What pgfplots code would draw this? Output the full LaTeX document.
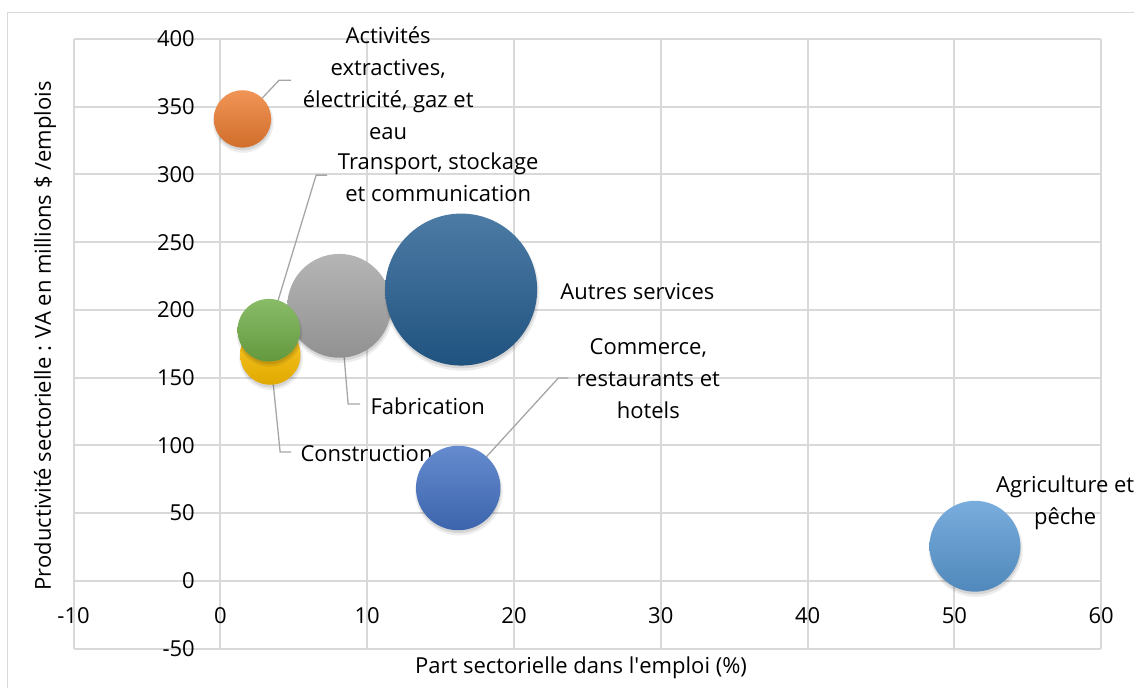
\documentclass[border=0pt]{standalone}
\usepackage{fontspec}
\setmainfont{Open Sans}
\usepackage{pgfplots}
\usepackage{pgfplotstable}
\pgfplotsset{compat=1.18}
\definecolor{gridc}{HTML}{D9D9D9}
\definecolor{leader}{HTML}{A6A6A6}
\definecolor{fabgray}{RGB}{165,165,165}
\definecolor{autblue}{RGB}{37,94,145}
\definecolor{conyel}{RGB}{255,192,0}
\definecolor{trgreen}{RGB}{112,173,71}
\definecolor{actorange}{RGB}{237,125,49}
\definecolor{comblue}{RGB}{68,114,196}
\definecolor{agrblue}{RGB}{91,155,213}
\colorlet{bubcol}{fabgray}
\tikzset{bubcol/.code={\colorlet{bubcol}{#1}}}

% Excel-like bubble: light top, darker bottom, soft drop shadow
\pgfdeclareverticalshading[bubcol]{bubshade}{100bp}{%
  color(0bp)=(bubcol!88!black); color(25bp)=(bubcol!88!black);
  color(75bp)=(bubcol!82!white); color(100bp)=(bubcol!82!white)}
\pgfdeclareplotmark{bubble}{%
  \pgfmathsetlengthmacro\bubr{\pgfplotmarksize+0.8pt}%
  \pgfscope
    \pgfsetfillcolor{black}\pgfsetfillopacity{0.07}%
    \pgfpathcircle{\pgfqpoint{0.4pt}{-1.8pt}}{\bubr}%
    \pgfusepathqfill
    \pgfsetfillopacity{0.10}%
    \pgfpathcircle{\pgfqpoint{0.3pt}{-1.4pt}}{\pgfplotmarksize}%
    \pgfusepathqfill
  \endpgfscope
  \pgfpathcircle{\pgfpointorigin}{\pgfplotmarksize}%
  \pgfshadepath{bubshade}{0}%
  \pgfusepath{discard}%
}

% x: part dans l'emploi (%), y: productivite, s: taille de bulle, c: secteur
\pgfplotstableread{
x     y      s     c
8.1   203    15.4  fab
16.4  215    33.0  aut
3.4   167    5.2   con
3.3   185    5.6   tra
1.5   341    4.7   act
16.2  68.5   10.2  com
51.4  25.5   11.8  agr
}\sectors

\begin{document}
\begin{tikzpicture}[font=\fontsize{11bp}{16bp}\selectfont]
\useasboundingbox (0,0) rectangle (567bp,344bp);
\draw[gridc, line width=0.6bp] (3.7bp,-20bp) rectangle (620bp,337.7bp);
\begin{axis}[
  at={(36.8bp,19.75bp)}, anchor=south west,
  scale only axis, width=513.8bp, height=304.75bp,
  xmin=-10, xmax=60, ymin=-50, ymax=400,
  xtick={-10,0,...,60}, ytick={-50,0,...,400},
  axis lines=middle,
  axis line style={draw=none},
  hide obscured x ticks=false, hide obscured y ticks=false,
  major tick length=0pt,
  grid=major,
  major grid style={draw=gridc, line width=1bp},
  clip=false,
  /pgf/number format/assume math mode=true,
  xticklabel style={anchor=north, inner sep=0pt, yshift=-13bp},
  yticklabel style={anchor=east, inner sep=0pt, xshift=-12.6bp},
  xlabel={Part sectorielle dans l\textquotesingle emploi (\%)},
  ylabel={Productivité sectorielle : VA en millions \$ /emplois},
  xlabel style={at={(axis description cs:0.4938,-0.032)}, anchor=center},
  ylabel style={at={(axis description cs:-0.0278,0.513)}, anchor=center, rotate=90},
]
\addplot[scatter, only marks, mark=bubble,
  scatter src=explicit symbolic,
  scatter/classes={
    fab={/tikz/bubcol=fabgray}, aut={/tikz/bubcol=autblue},
    con={/tikz/bubcol=conyel}, tra={/tikz/bubcol=trgreen},
    act={/tikz/bubcol=actorange}, com={/tikz/bubcol=comblue},
    agr={/tikz/bubcol=agrblue}},
  visualization depends on={38.14*sqrt(\thisrow{s}/33) \as \rad},
  scatter/@pre marker code/.append style={/tikz/mark size=\rad}]
  table[x=x, y=y, meta=c] {\sectors};

\draw[leader, line width=0.65bp] (1.51,341) -- (4.0,369.6) -- (4.82,369.6);
\draw[leader, line width=0.65bp] (3.32,185.2) -- (6.52,299.5) -- (7.27,299.5);
\draw[leader, line width=0.65bp] (8.14,203.1) -- (8.70,130.5) -- (9.52,130.5);
\draw[leader, line width=0.65bp] (3.39,167.4) -- (4.07,95.1) -- (4.82,95.1);
\draw[leader, line width=0.65bp] (16.18,68.5) -- (23.02,149.7) -- (23.70,149.7);

\node[align=center] at (11.43,367.6) {Activités\\extractives,\\électricité, gaz et\\eau};
\node[align=center] at (14.84,297.7) {Transport, stockage\\et communication};
\node[anchor=west, inner sep=0pt] at (23.14,213.2) {Autres services};
\node[anchor=west, inner sep=0pt] at (10.2,129) {Fabrication};
\node[anchor=west, inner sep=0pt] at (5.43,93.6) {Construction};
\node[align=center] at (29.15,149) {Commerce,\\restaurants et\\hotels};
\node[align=center] at (57.55,57.4) {Agriculture et\\pêche};
\end{axis}
\end{tikzpicture}
\end{document}
